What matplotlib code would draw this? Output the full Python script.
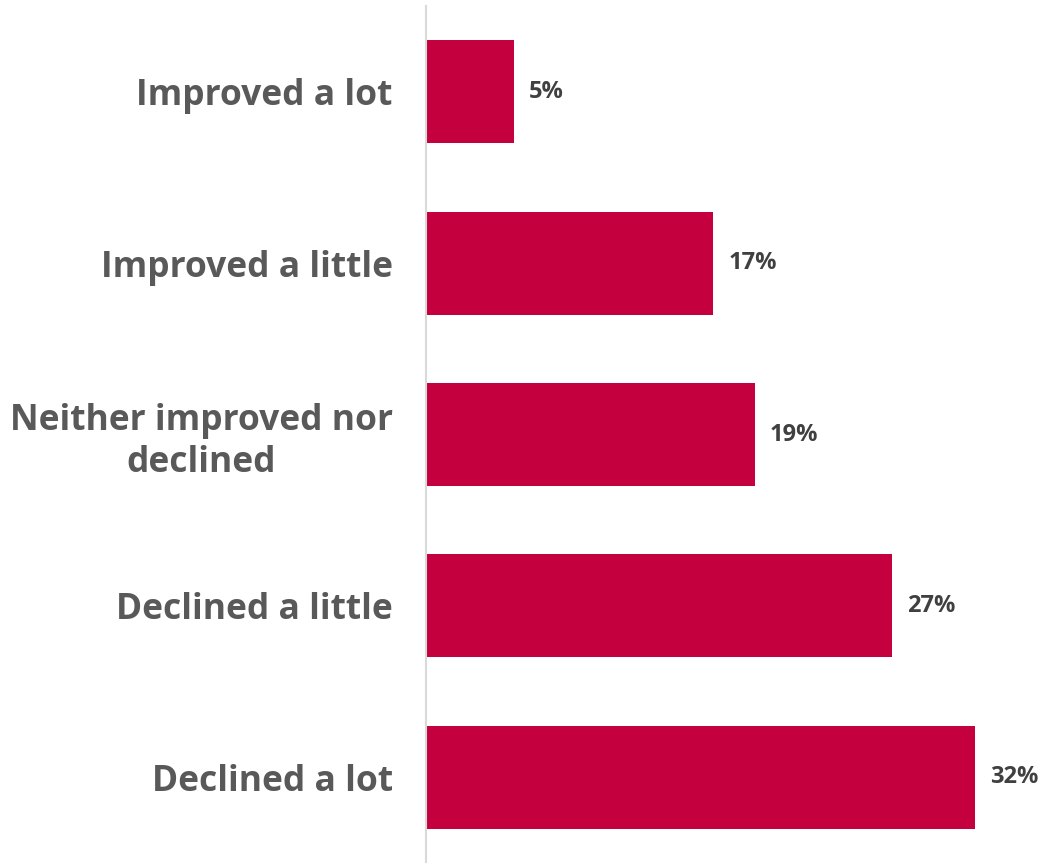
import os
import matplotlib
matplotlib.use("Agg")
import matplotlib.pyplot as plt
from matplotlib import font_manager as fm

categories = ["Improved a lot", "Improved a little", "Neither improved nor\ndeclined",
              "Declined a little", "Declined a lot"]
values = [5.1, 16.7, 19.1, 27.1, 31.9]
value_labels = ["5%", "17%", "19%", "27%", "32%"]

# static bold face (the google-fonts ones are variable fonts)
bold_file = None
all_files = fm.findSystemFonts()
for want in ["OpenSans-Bold.ttf", "NotoSans-Bold.ttf", "Lato-Bold.ttf"]:
    hits = [f for f in all_files if os.path.basename(f) == want]
    if hits:
        bold_file = hits[0]
        break

def bold(size):
    if bold_file:
        return fm.FontProperties(fname=bold_file, size=size)
    return fm.FontProperties(family="DejaVu Sans", weight="bold", size=size)

fig = plt.figure(figsize=(10.42, 8.63), dpi=100)
ax = fig.add_axes([426 / 1042, 0, 616 / 1042, 857 / 863])

ypos = list(range(len(categories)))
ax.barh(ypos, values, height=0.6, color="#C4003F")
ax.set_ylim(len(categories) - 0.5, -0.5)
ax.set_xlim(0, 616 / 17.2)

for y, v, lab in zip(ypos, values, value_labels):
    ax.annotate(lab, (v, y), xytext=(15, 0), textcoords="offset pixels",
                va="center", ha="left", fontproperties=bold(17), color="#404040")

ax.set_yticks(ypos)
ax.set_yticklabels(categories, fontproperties=bold(25.5), color="#595959",
                   linespacing=1.22, multialignment="center")
ax.tick_params(axis="y", length=0, pad=24)
ax.set_xticks([])
for s in ["top", "right", "bottom"]:
    ax.spines[s].set_visible(False)
ax.spines["left"].set_color("#D9D9D9")
ax.spines["left"].set_linewidth(1.5)

fig.savefig("out.png", dpi=100)
